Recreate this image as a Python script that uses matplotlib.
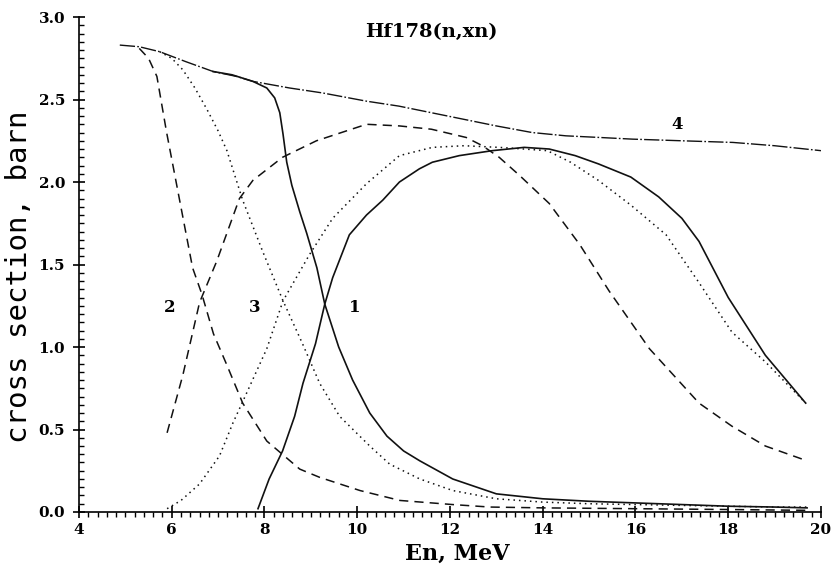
import numpy as np
import matplotlib
matplotlib.use('Agg')
import matplotlib.pyplot as plt
from matplotlib.ticker import MultipleLocator

# curve 4 (sum)
e_4 = [4.88, 5.3, 5.74, 6.3, 6.89, 7.4, 7.75, 8.54, 9.25, 10.2, 10.9, 11.6, 12.3,
       13.0, 13.77, 14.5, 15.23, 15.93, 17.0, 18.1, 19.0, 20.0]
s_4 = [2.83, 2.82, 2.79, 2.73, 2.67, 2.64, 2.61, 2.57, 2.54, 2.49, 2.46, 2.42, 2.38,
       2.34, 2.30, 2.28, 2.27, 2.26, 2.25, 2.24, 2.22, 2.19]

# curve 1, falling and rising branch
e_1a = [6.89, 7.3, 7.75, 8.05, 8.22, 8.33, 8.4, 8.48, 8.59, 8.76, 8.91, 9.13, 9.3,
        9.6, 9.9, 10.27, 10.64, 11.0, 11.35, 12.06, 13.0, 14.0, 15.0, 16.0, 17.0,
        18.0, 19.0, 19.7]
s_1a = [2.67, 2.65, 2.61, 2.57, 2.51, 2.42, 2.29, 2.12, 1.98, 1.82, 1.69, 1.48, 1.26,
        1.00, 0.80, 0.60, 0.46, 0.37, 0.31, 0.20, 0.11, 0.08, 0.065, 0.055, 0.045,
        0.035, 0.03, 0.025]
e_1b = [7.86, 8.1, 8.39, 8.65, 8.83, 9.1, 9.3, 9.47, 9.83, 10.2, 10.55, 10.91, 11.34,
        11.62, 12.2, 12.91, 13.6, 14.14, 14.7, 15.2, 15.9, 16.5, 17.0, 17.37, 18.0,
        18.8, 19.67]
s_1b = [0.02, 0.20, 0.37, 0.58, 0.78, 1.02, 1.26, 1.42, 1.68, 1.80, 1.89, 2.00, 2.08,
        2.12, 2.16, 2.19, 2.21, 2.20, 2.16, 2.11, 2.03, 1.91, 1.78, 1.64, 1.30,
        0.95, 0.66]

# curve 2
e_2a = [5.3, 5.5, 5.68, 5.89, 6.17, 6.45, 6.65, 6.9, 7.19, 7.53, 8.05, 8.76, 9.19,
        10.06, 10.92, 12.06, 12.86, 14.0, 16.0, 18.0, 19.7]
s_2a = [2.81, 2.75, 2.64, 2.30, 1.89, 1.48, 1.32, 1.08, 0.89, 0.66, 0.43, 0.26, 0.21,
        0.13, 0.07, 0.045, 0.03, 0.025, 0.02, 0.015, 0.01]
e_2b = [5.9, 6.24, 6.6, 6.97, 7.46, 7.75, 8.39, 9.12, 10.2, 10.91, 11.6, 12.35, 12.7,
        13.06, 13.5, 14.14, 14.8, 15.43, 16.3, 17.37, 18.08, 18.8, 19.6]
s_2b = [0.48, 0.83, 1.27, 1.52, 1.90, 2.01, 2.15, 2.25, 2.35, 2.34, 2.32, 2.27, 2.22,
        2.15, 2.04, 1.87, 1.62, 1.34, 0.99, 0.66, 0.52, 0.40, 0.32]

# curve 3
e_3a = [5.74, 6.0, 6.24, 6.5, 6.76, 7.0, 7.19, 7.53, 7.96, 8.4, 8.82, 9.19, 9.62,
        10.27, 10.7, 11.35, 12.06, 13.0, 14.0, 15.0, 16.0, 17.0, 18.0, 19.0, 19.7]
s_3a = [2.79, 2.75, 2.68, 2.57, 2.44, 2.31, 2.19, 1.89, 1.58, 1.28, 1.02, 0.78, 0.58,
        0.40, 0.29, 0.20, 0.13, 0.08, 0.06, 0.05, 0.045, 0.04, 0.035, 0.03, 0.03]
e_3b = [5.9, 6.2, 6.6, 7.03, 7.32, 7.5, 8.05, 8.4, 8.97, 9.47, 10.2, 10.91, 11.62,
        12.3, 13.06, 13.6, 14.1, 14.6, 15.2, 15.9, 16.66, 17.37, 18.08, 18.8, 19.67]
s_3b = [0.02, 0.07, 0.17, 0.34, 0.54, 0.65, 0.99, 1.28, 1.56, 1.78, 1.99, 2.16, 2.21,
        2.22, 2.21, 2.20, 2.19, 2.12, 2.01, 1.86, 1.68, 1.39, 1.09, 0.91, 0.66]

# curve labels
lab_txt = ['1', '2', '3', '4']
lab_x = [9.95, 5.95, 7.79, 16.9]
lab_y = [1.24, 1.24, 1.24, 2.35]

serif_b = dict(family='DejaVu Serif', weight='bold')

fig = plt.figure(figsize=(8.34, 5.68), dpi=100)
ax = fig.add_axes([0.0947, 0.0986, 0.8897, 0.8714])

k = '#111111'
dash = (0, (6.0, 4.0))
dot = (0, (1.0, 2.6))
dashdot = (0, (11, 1.6, 1.2, 1.6))

ax.plot(e_4, s_4, color=k, lw=1.0, ls=dashdot)
ax.plot(e_1a, s_1a, color=k, lw=1.2, ls='-')
ax.plot(e_1b, s_1b, color=k, lw=1.2, ls='-')
ax.plot(e_2a, s_2a, color=k, lw=1.1, ls=dash)
ax.plot(e_2b, s_2b, color=k, lw=1.1, ls=dash)
ax.plot(e_3a, s_3a, color=k, lw=1.1, ls=dot)
ax.plot(e_3b, s_3b, color=k, lw=1.1, ls=dot)

for t, x, y in zip(lab_txt, lab_x, lab_y):
    ax.text(x, y, t, ha='center', va='center', fontsize=12, **serif_b)

ax.text(11.59, 2.91, 'Hf178(n,xn)', ha='center', va='center', fontsize=14, **serif_b)

ax.set_xlim(4, 20)
ax.set_ylim(0, 3)
ax.spines['top'].set_visible(False)
ax.spines['right'].set_visible(False)
ax.spines['left'].set_linewidth(1.2)
ax.spines['bottom'].set_linewidth(1.2)

ax.xaxis.set_major_locator(MultipleLocator(2))
ax.xaxis.set_minor_locator(MultipleLocator(0.2))
ax.yaxis.set_major_locator(MultipleLocator(0.5))
ax.yaxis.set_minor_locator(MultipleLocator(0.05))
ax.yaxis.set_major_formatter(plt.FormatStrFormatter('%.1f'))

ax.tick_params(axis='both', which='major', direction='inout', length=8, width=1.2)
ax.tick_params(axis='x', which='minor', direction='out', length=3.5, width=1.0)
ax.tick_params(axis='y', which='minor', direction='in', length=3.5, width=1.0)
ax.tick_params(axis='x', which='major', pad=4)
ax.tick_params(axis='y', which='major', pad=6)
for lbl in ax.get_xticklabels() + ax.get_yticklabels():
    lbl.set_fontfamily('DejaVu Serif')
    lbl.set_fontweight('bold')
    lbl.set_fontsize(11)

ax.set_xlabel('En, MeV', fontsize=16, **serif_b)
ax.xaxis.set_label_coords(0.51, -0.062)
ax.set_ylabel('cross section, barn', fontsize=21, family='DejaVu Sans Mono')
ax.yaxis.set_label_coords(-0.062, 0.475)

fig.savefig('out.png', dpi=100)
